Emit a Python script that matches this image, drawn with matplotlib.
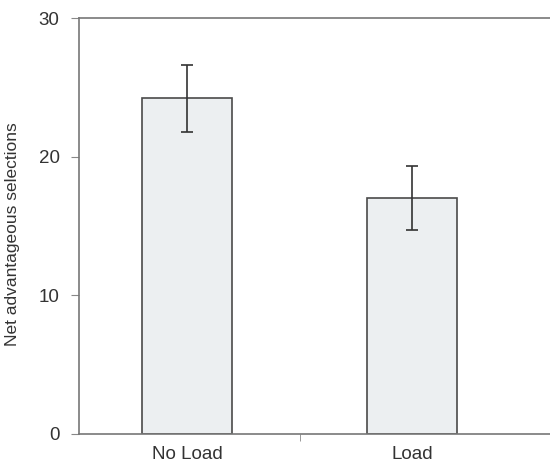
import matplotlib
matplotlib.use("Agg")
import matplotlib.pyplot as plt

plt.rcParams['font.family'] = ['Liberation Sans', 'DejaVu Sans']

# data
conditions = ["No Load", "Load"]
means = [24.2, 17.0]
errors = [2.4, 2.3]

fig = plt.figure(figsize=(5.5, 4.7), dpi=100)
ax = fig.add_axes([0.1436, 0.0766, 0.8564, 0.8851])

x = range(len(conditions))
ax.bar(x, means, width=0.4, color="#eceff1", edgecolor="#4a4a4a", linewidth=1.2,
       yerr=errors, error_kw=dict(ecolor="#333333", elinewidth=1.2, capsize=4, capthick=1.2))

ax.set_xlim(-0.48, 1.613)
ax.set_ylim(0, 30)
ax.set_yticks([0, 10, 20, 30])
ax.set_xticks(list(x))
ax.set_xticklabels(conditions)
ax.set_xticks([0.5], minor=True)
ax.tick_params(axis="x", which="major", length=0, pad=9, labelsize=13.5, labelcolor="#333333")
ax.tick_params(axis="x", which="minor", length=5, color="#888888")
ax.tick_params(axis="y", length=6, direction="out", color="#888888", labelsize=13.5,
               labelcolor="#333333", pad=8)

ax.set_ylabel("Net advantageous selections", fontsize=12.5, color="#333333")
ax.yaxis.set_label_coords(-0.125, 0.48)

for side in ["left", "bottom", "top"]:
    ax.spines[side].set_color("#777777")
    ax.spines[side].set_linewidth(1.2)
ax.spines["right"].set_visible(False)

plt.savefig("out.png", dpi=100)
